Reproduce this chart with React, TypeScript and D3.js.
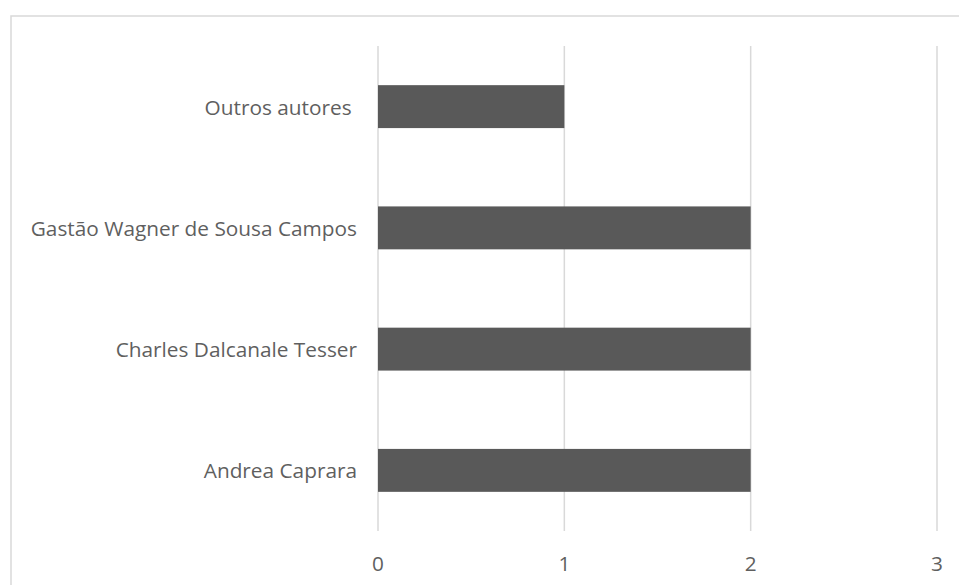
import React from "react";
import * as d3 from "d3";

const authors = [
  "Outros autores ",
  "Gastão Wagner de Sousa Campos",
  "Charles Dalcanale Tesser",
  "Andrea Caprara",
];
const counts = [1, 2, 2, 2];
const ticks = [0, 1, 2, 3];

const W = 959;
const H = 585;
const plot = { left: 378, right: 937, top: 46, bottom: 531 };

export default function App() {
  const x = d3.scaleLinear().domain([0, 3]).range([plot.left, plot.right]);
  const y = d3
    .scaleBand<string>()
    .domain(authors)
    .range([plot.top, plot.bottom])
    .paddingInner(0.646)
    .paddingOuter(0.323);
  const font = "'Open Sans', sans-serif";

  return (
    <svg
      width={W}
      height={H}
      style={{ position: "fixed", left: 0, top: 0, background: "#fff" }}
    >
      <rect x={11} y={16} width={W} height={H} fill="#fff" stroke="#d9d9d9" strokeWidth={1.5} />
      {ticks.map((t) => (
        <line
          key={t}
          x1={x(t)}
          x2={x(t)}
          y1={plot.top}
          y2={plot.bottom}
          stroke="#d9d9d9"
          strokeWidth={1.5}
        />
      ))}
      {authors.map((a, i) => (
        <rect
          key={a}
          x={x(0)}
          y={y(a)!}
          width={x(counts[i]) - x(0)}
          height={y.bandwidth()}
          fill="#595959"
        />
      ))}
      {authors.map((a) => (
        <text
          key={a}
          x={plot.left - 21}
          y={y(a)! + y.bandwidth() / 2}
          textAnchor="end"
          dominantBaseline="central"
          fontFamily={font}
          fontSize={20.8}
          fill="#5f5f5f"
          style={{ whiteSpace: "pre" }}
        >
          {a}
        </text>
      ))}
      {ticks.map((t) => (
        <text
          key={t}
          x={x(t)}
          y={563}
          textAnchor="middle"
          dominantBaseline="central"
          fontFamily={font}
          fontSize={20.8}
          fill="#5f5f5f"
        >
          {t}
        </text>
      ))}
    </svg>
  );
}
